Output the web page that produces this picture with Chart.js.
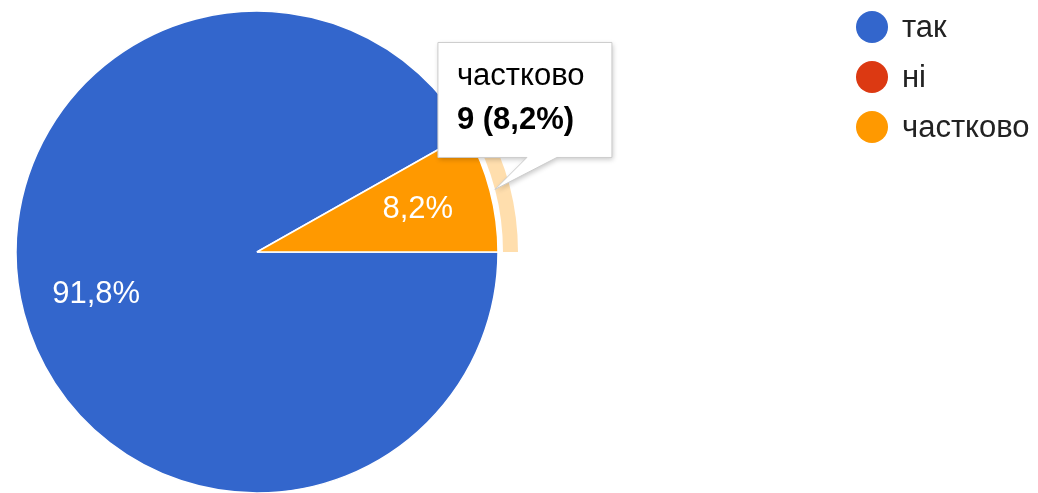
<!DOCTYPE html>
<html>
<head>
<meta charset="utf-8">
<script src="https://cdn.jsdelivr.net/npm/chart.js@4.4.0/dist/chart.umd.min.js"></script>
<style>
  html, body { margin: 0; padding: 0; background: #fff; overflow: hidden; }
  #wrap { width: 1038px; height: 493px; position: relative; }
</style>
</head>
<body>
<div id="wrap"><canvas id="pie" width="1038" height="493"></canvas></div>
<script>
// ── Data ──────────────────────────────────────────────────────────────────
const labels = ['так', 'ні', 'частково'];
const counts = [101, 0, 9];
const colors = ['#3366cc', '#dc3912', '#ff9900'];
const hoverIndex = 2;            // slice shown as hovered in the original

const FONT = 'Arial, "Liberation Sans", sans-serif';
const total = counts.reduce((a, b) => a + b, 0);

function pct(v) { return (v / total * 100).toFixed(1).replace('.', ',') + '%'; }

// ── Overlay: hover ring, slice labels, legend, tooltip ────────────────────
const overlay = {
  id: 'overlay',
  afterDatasetsDraw(chart) {
    const ctx = chart.ctx;
    const arcs = chart.getDatasetMeta(0).data;

    // hover ring around the highlighted slice
    const h = arcs[hoverIndex].getProps(['x', 'y', 'startAngle', 'endAngle', 'outerRadius'], true);
    ctx.save();
    ctx.beginPath();
    ctx.arc(h.x, h.y, h.outerRadius + 20, h.startAngle, h.endAngle);
    ctx.arc(h.x, h.y, h.outerRadius + 5, h.endAngle, h.startAngle, true);
    ctx.closePath();
    ctx.fillStyle = 'rgba(255,153,0,0.32)';
    ctx.fill();
    ctx.restore();

    // percentage labels inside slices
    ctx.save();
    ctx.font = '31px ' + FONT;
    ctx.fillStyle = '#ffffff';
    ctx.textAlign = 'center';
    ctx.textBaseline = 'middle';
    arcs.forEach((arc, i) => {
      if (!counts[i]) return;
      const p = arc.getProps(['x', 'y', 'startAngle', 'endAngle', 'outerRadius'], true);
      const mid = (p.startAngle + p.endAngle) / 2;
      const d = p.outerRadius * 0.69;
      ctx.fillText(pct(counts[i]), p.x + Math.cos(mid) * d, p.y + Math.sin(mid) * d);
    });
    ctx.restore();

    // legend
    ctx.save();
    ctx.font = '31px ' + FONT;
    ctx.textBaseline = 'alphabetic';
    labels.forEach((lab, i) => {
      const cy = 27 + i * 50;
      ctx.beginPath();
      ctx.arc(872, cy, 16, 0, Math.PI * 2);
      ctx.fillStyle = colors[i];
      ctx.fill();
      ctx.fillStyle = '#222222';
      ctx.fillText(lab, 902, cy + 10);
    });
    ctx.restore();

    // tooltip pointing at the hovered slice
    const mid = (h.startAngle + h.endAngle) / 2;
    const tipX = h.x + Math.cos(mid) * (h.outerRadius + 5);
    const tipY = h.y + Math.sin(mid) * (h.outerRadius + 5);
    const bx = tipX - 57, by = tipY - 147, bw = 174, bh = 115;
    ctx.save();
    ctx.beginPath();
    ctx.moveTo(bx, by);
    ctx.lineTo(bx + bw, by);
    ctx.lineTo(bx + bw, by + bh);
    ctx.lineTo(bx + 119, by + bh);
    ctx.lineTo(tipX, tipY);
    ctx.lineTo(bx + 89, by + bh);
    ctx.lineTo(bx, by + bh);
    ctx.closePath();
    ctx.shadowColor = 'rgba(0,0,0,0.22)';
    ctx.shadowBlur = 5;
    ctx.shadowOffsetX = 1;
    ctx.shadowOffsetY = 2;
    ctx.fillStyle = '#ffffff';
    ctx.fill();
    ctx.shadowColor = 'transparent';
    ctx.strokeStyle = '#cccccc';
    ctx.lineWidth = 1;
    ctx.stroke();
    ctx.fillStyle = '#000000';
    ctx.textBaseline = 'alphabetic';
    ctx.font = '31px ' + FONT;
    ctx.fillText(labels[hoverIndex], bx + 19, by + 43);
    ctx.font = 'bold 31px ' + FONT;
    ctx.fillText(counts[hoverIndex] + ' (' + pct(counts[hoverIndex]) + ')', bx + 19, by + 87);
    ctx.restore();
  }
};

// ── Chart ─────────────────────────────────────────────────────────────────
new Chart(document.getElementById('pie').getContext('2d'), {
  type: 'pie',
  data: {
    labels,
    datasets: [{
      data: counts,
      backgroundColor: colors,
      borderColor: '#ffffff',
      borderWidth: 1.5,
      hoverOffset: 0,
      radius: 241,
    }]
  },
  options: {
    responsive: false,
    animation: false,
    events: [],
    rotation: 90,
    layout: { padding: { left: 16, top: 11, right: 540, bottom: 0 } },
    plugins: {
      legend: { display: false },
      tooltip: { enabled: false },
    }
  },
  plugins: [overlay]
});
</script>
</body>
</html>
